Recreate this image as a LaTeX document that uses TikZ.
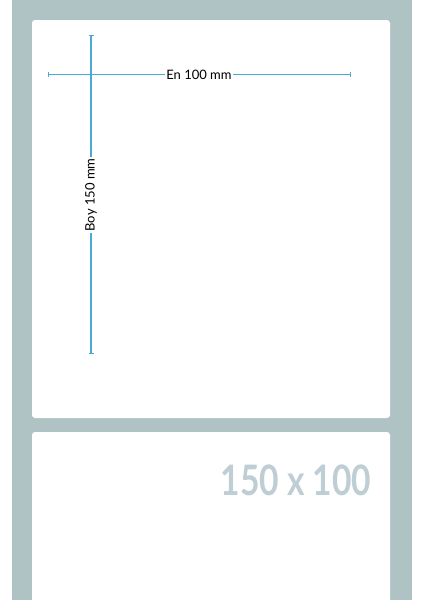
\documentclass[tikz,border=0pt]{standalone}
\usepackage{fontspec}
\setmainfont{Lato}
\usetikzlibrary{arrows.meta}
\definecolor{sheet}{RGB}{175,194,196}
\definecolor{dimline}{RGB}{74,170,212}
\definecolor{sizetext}{RGB}{190,206,212}
\tikzset{
        >={Bar[width=5pt,line width=1pt]},
        card/.style = {fill=white, rounded corners=3pt},
        dim/.style = {color=dimline, line width=1pt},
        dimlabel/.style = {fill=white, inner sep=1pt, font=\fontsize{13}{13}\selectfont}
}

\begin{document}
\begin{tikzpicture}[x=1pt,y=-1pt]

        \useasboundingbox (0,0) rectangle (424,600);
        \fill [white] (0,0) rectangle (424,600);

        % Backing sheet and labels
        \fill [sheet] (12,0) rectangle (412,600);
        \fill [card] (32,20) rectangle (390,418);
        \fill [card] (32,432) rectangle (390,612);

        % Width
        \coordinate (wleft) at (48,74.5);
        \coordinate (wright) at (351,74.5);
        \node [dimlabel] (width) at (199,74.5) {En 100 mm};

        % Height
        \coordinate (htop) at (91,35);
        \coordinate (hbottom) at (91,354);
        \node [dimlabel, rotate=90] (height) at (91,195) {Boy 150 mm};

        \draw [dim, <-] (wleft) -- (width);
        \draw [dim, <-] (wright) -- (width);
        \draw [dim, line width=1.4pt, <-] (htop) -- (height.east);
        \draw [dim, line width=1.4pt, <-] (hbottom) -- (height.west);

        % Size
        \node [text=sizetext, font=\bfseries\fontsize{42}{42}\selectfont, xscale=0.8] (size) at (296,480) {150 x 100};

\end{tikzpicture}
\end{document}
